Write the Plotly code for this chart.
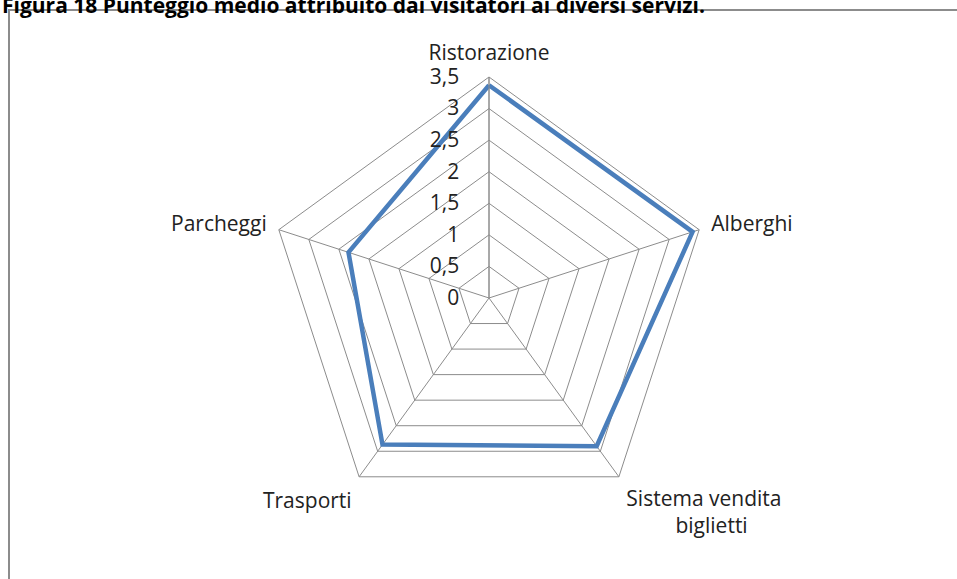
import plotly.graph_objects as go

nbsp = '\u00a0'
servizi = ['Ristorazione', 'Alberghi', 'Sistema vendita<br>' + nbsp * 9 + 'biglietti', 'Trasporti', 'Parcheggi']
punteggi = [3.37, 3.39, 2.90, 2.87, 2.34]
tick_vals = [0, 0.5, 1, 1.5, 2, 2.5, 3, 3.5]
tick_text = ['0', '0,5', '1', '1,5', '2', '2,5', '3', '3,5']

titolo = 'Figura 18 Punteggio medio attribuito dai visitatori ai diversi servizi.'

W, H = 957, 579
cx, cy, r = 489, 298, 221  # centro e raggio del radar in pixel

fig = go.Figure()

# chiudo il poligono ripetendo il primo punto
fig.add_trace(go.Scatterpolar(
    r=punteggi + punteggi[:1],
    theta=servizi + servizi[:1],
    mode='lines',
    line=dict(color='#4a7ebb', width=4.5),
    showlegend=False,
))

fig.update_layout(
    width=W, height=H,
    margin=dict(l=0, r=0, t=0, b=0),
    paper_bgcolor='white',
    separators=',.',
    font=dict(family='Open Sans', size=21, color='#222222'),
    polar=dict(
        domain=dict(x=[(cx - r) / W, (cx + r) / W],
                    y=[(H - cy - r) / H, (H - cy + r) / H]),
        bgcolor='white',
        gridshape='linear',
        angularaxis=dict(
            rotation=90, direction='clockwise',
            showline=True, linecolor='#8c8c8c', linewidth=1,
            gridcolor='#8c8c8c', gridwidth=1,
            ticks='outside', ticklen=8, tickcolor='rgba(0,0,0,0)',
            tickfont=dict(size=21, color='#222222'),
        ),
        radialaxis=dict(
            range=[0, 3.5], angle=90, side='counterclockwise',
            tickvals=tick_vals, ticktext=tick_text, tickangle=90,
            showline=True, linecolor='#8c8c8c', linewidth=1,
            gridcolor='#8c8c8c', gridwidth=1,
            ticks='outside', ticklen=22, tickcolor='rgba(0,0,0,0)',
            tickfont=dict(size=21, color='#222222'),
        ),
    ),
    shapes=[dict(
        type='rect', xref='paper', yref='paper',
        x0=9 / W, x1=1.02, y0=-0.02, y1=1 - 10 / H,
        line=dict(color='#8c8c8c', width=2), fillcolor='rgba(0,0,0,0)',
        layer='below',
    )],
    annotations=[dict(
        text='<b>' + titolo + '</b>', xref='paper', yref='paper',
        x=0, y=1 - 21 / H, xanchor='left', yanchor='bottom',
        showarrow=False, font=dict(size=21, color='black'),
    )],
)

# tolgo il margine di default del body, cosi il grafico parte da (0, 0)
fig.write_html('out.html', config={'displayModeBar': False},
               post_script="document.body.style.margin='0';")
